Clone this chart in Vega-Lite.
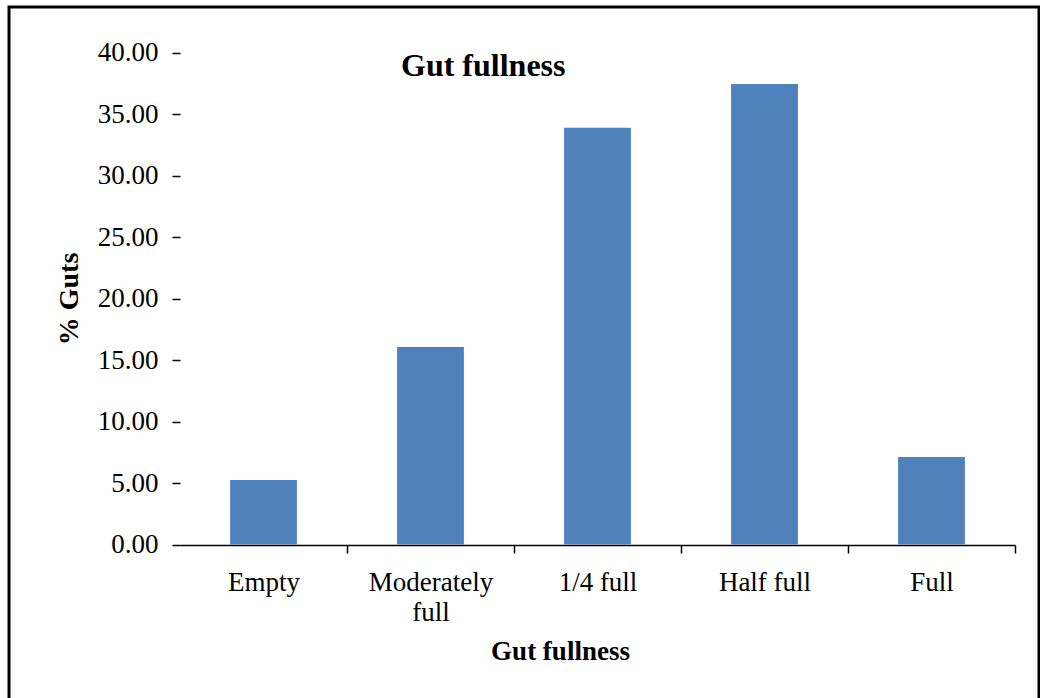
{
  "$schema": "https://vega.github.io/schema/vega-lite/v6.json",
  "autosize": {"type": "none"},
  "padding": {"left": 9, "top": 7, "right": 1, "bottom": -3},
  "width": 1030,
  "height": 694,
  "background": "white",
  "config": {
    "view": {"stroke": "#000000", "strokeWidth": 3},
    "font": "Liberation Serif"
  },
  "title": {
    "text": "Gut fullness",
    "anchor": "start",
    "frame": "group",
    "align": "left",
    "baseline": "alphabetic",
    "font": "Liberation Serif",
    "fontSize": 32,
    "fontWeight": "bold",
    "color": "#000000",
    "dx": 392,
    "dy": 105
  },
  "data": {
    "values": [
      {"fullness": "Empty", "pct": 5.24},
      {"fullness": "Moderately full", "pct": 16.06},
      {"fullness": "1/4 full", "pct": 33.89},
      {"fullness": "Half full", "pct": 37.44},
      {"fullness": "Full", "pct": 7.11}
    ]
  },
  "mark": {"type": "bar", "color": "#4F81BD"},
  "encoding": {
    "x": {
      "field": "fullness",
      "type": "nominal",
      "sort": null,
      "scale": {"range": [171, 1006], "paddingInner": 0.6, "paddingOuter": 0.3},
      "axis": {
        "title": "Gut fullness",
        "titleFont": "Liberation Serif",
        "titleFontSize": 27,
        "titleFontWeight": "bold",
        "titleColor": "#000000",
        "titlePadding": 13,
        "titleX": 551,
        "labelAngle": 0,
        "labelFont": "Liberation Serif",
        "labelFontSize": 27,
        "labelColor": "#000000",
        "labelPadding": 16,
        "labelLineHeight": 30,
        "labelExpr": "datum.label == 'Moderately full' ? ['Moderately', 'full'] : datum.label",
        "domainColor": "#000000",
        "domainWidth": 1.5,
        "tickColor": "#000000",
        "tickWidth": 1.5,
        "tickSize": 8,
        "tickOffset": 83.5,
        "labelOffset": -83.5,
        "offset": -156
      }
    },
    "y": {
      "field": "pct",
      "type": "quantitative",
      "scale": {"domain": [0, 40], "range": [537.5, 45.5], "nice": false},
      "axis": {
        "title": "% Guts",
        "titleFont": "Liberation Serif",
        "titleFontSize": 28,
        "titleFontWeight": "bold",
        "titleColor": "#000000",
        "titlePadding": 14,
        "values": [0, 5, 10, 15, 20, 25, 30, 35, 40],
        "format": ".2f",
        "labelFont": "Liberation Serif",
        "labelFontSize": 27,
        "labelColor": "#000000",
        "labelPadding": 14,
        "domain": false,
        "grid": false,
        "tickColor": "#000000",
        "tickWidth": 1.5,
        "tickSize": 8,
        "offset": -171
      }
    }
  }
}
